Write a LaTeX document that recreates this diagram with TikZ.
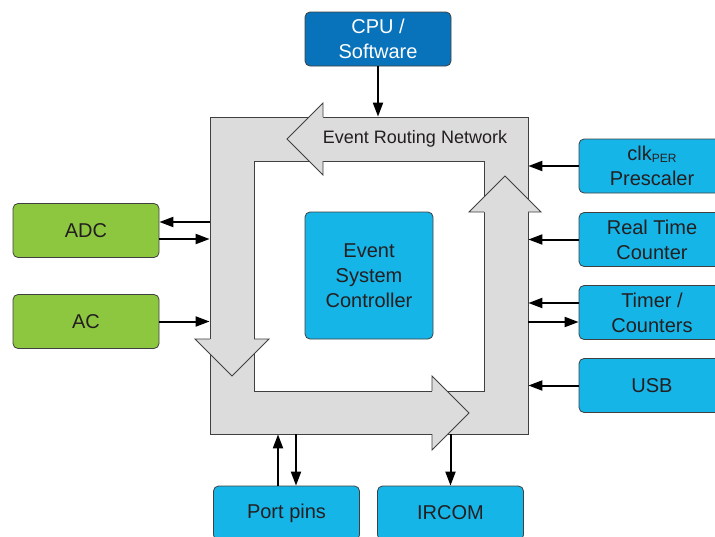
\documentclass[tikz,border=0pt]{standalone}
\usepackage{fontspec}
\setmainfont{Liberation Sans}
\usetikzlibrary{arrows.meta}
\definecolor{evblue}{RGB}{22,181,232}
\definecolor{cpublue}{RGB}{8,114,186}
\definecolor{evgreen}{RGB}{141,198,63}
\definecolor{evgray}{RGB}{220,220,220}
\definecolor{rim}{RGB}{64,64,64}
\definecolor{ink}{RGB}{35,31,32}
\tikzset{%
    box/.style={draw=rim, line width=0.8pt, rounded corners=5pt, fill=evblue,
        text=ink, align=center, inner sep=0pt,
        minimum width=146pt, minimum height=54pt,
        font=\fontsize{20}{25}\selectfont},
    greenbox/.style={box, fill=evgreen},
    cpubox/.style={box, fill=cpublue, text=white},
    band/.style={draw=rim, line width=0.8pt, fill=evgray, inner sep=0pt},
    arr/.style={-{Triangle[length=14pt,width=10pt]}, line width=2pt, black},
}

\begin{document}
\begin{tikzpicture}[x=1pt,y=-1pt]
    \clip (0,0) rectangle (715,536);

    % routing frame
    \node[band, minimum width=318pt, minimum height=317pt] (erw) at (369,275.5) {};
    \node[band, fill=white, minimum size=230pt] (hole) at (369,276) {};

    % arrow heads of the ring
    \fill[evgray] (323,103) -- (287,139) -- (323,175) -- cycle;
    \draw[rim, line width=0.8pt] (323,117) -- (323,103) -- (287,139) -- (323,175) -- (323,161);
    \fill[evgray] (469,212) -- (505,176) -- (541,212) -- cycle;
    \draw[rim, line width=0.8pt] (484,212) -- (469,212) -- (505,176) -- (541,212) -- (528,212);
    \fill[evgray] (432,376) -- (469,413) -- (432,450) -- cycle;
    \draw[rim, line width=0.8pt] (432,391) -- (432,376) -- (469,413) -- (432,450) -- (432,434);
    \fill[evgray] (195,339) -- (232,376) -- (269,339) -- cycle;
    \draw[rim, line width=0.8pt] (210,339) -- (195,339) -- (232,376) -- (269,339) -- (254,339);

    \node[font=\fontsize{18}{18}\selectfont, text=ink] (ern) at (415,139) {Event Routing Network};
    \node[box, minimum width=128pt, minimum height=127pt] (esc) at (369,275.5) {Event\\System\\Controller};

    % blocks round the frame
    \node[cpubox] (cpu) at (378,39) {CPU /\\Software};
    \node[greenbox] (adc) at (86,230.5) {ADC};
    \node[greenbox] (ac) at (86,321.5) {AC};
    \node[box] (clk) at (652,166) {clk\raisebox{-2pt}{\fontsize{12}{12}\selectfont PER}\\Prescaler};
    \node[box] (rtc) at (652,239.5) {Real Time\\Counter};
    \node[box] (tc) at (652,312.5) {Timer /\\Counters};
    \node[box] (usb) at (652,385.5) {USB};
    \node[box] (port) at (286.5,513) {Port pins};
    \node[box] (ircom) at (450.5,513) {IRCOM};

    % connectors
    \coordinate (adcin) at ([yshift=8.5pt]adc.east);
    \coordinate (adcout) at ([yshift=-8.5pt]adc.east);
    \coordinate (tcout) at ([yshift=9.5pt]tc.west);
    \coordinate (tcin) at ([yshift=-9.5pt]tc.west);
    \coordinate (portout) at ([xshift=-8.5pt]port.north);
    \coordinate (portin) at ([xshift=9.5pt]port.north);

    \draw[arr] (cpu) -- (cpu |- erw.north);
    \draw[arr] (adcin -| erw.west) -- (adcin);
    \draw[arr] (adcout) -- (adcout -| erw.west);
    \draw[arr] (ac) -- (ac -| erw.west);
    \draw[arr] (clk) -- (clk -| erw.east);
    \draw[arr] (rtc) -- (rtc -| erw.east);
    \draw[arr] (tcout) -- (tcout -| erw.east);
    \draw[arr] (tcin -| erw.east) -- (tcin);
    \draw[arr] (usb) -- (usb -| erw.east);
    \draw[arr] (portout) -- (portout |- erw.south);
    \draw[arr] (portin |- erw.south) -- (portin);
    \draw[arr] (ircom |- erw.south) -- (ircom);

\end{tikzpicture}
\end{document}
